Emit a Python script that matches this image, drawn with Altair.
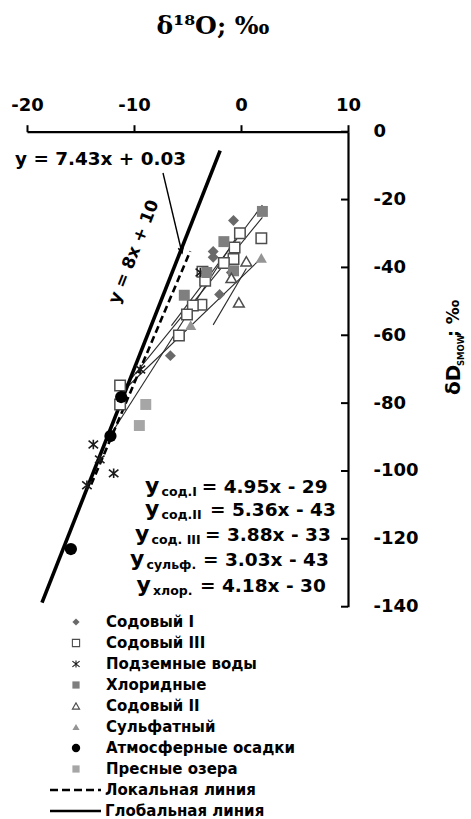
import altair as alt
import pandas as pd

# ---------------- data ----------------
sod1_x = [-0.7, -2.6, -2.6, -2.0, -6.6, -0.9]
sod1_y = [-26.2, -35.3, -37.0, -48.0, -66.0, -41.5]

sod3_x = [-0.1, 1.9, -0.6, -0.7, -1.6, -3.6, -3.35, -3.7, -4.5, -5.05, -5.8, -11.3, -11.3]
sod3_y = [-29.9, -31.4, -34.1, -37.5, -38.7, -41.3, -43.9, -51.0, -51.2, -53.9, -60.1, -74.8, -80.4]

ground_x = [-3.8, -9.4, -13.8, -11.9, -14.4, -13.2]
ground_y = [-41.5, -70.1, -92.2, -100.7, -104.2, -96.6]

chlor_x = [2.0, -1.6, -3.2, -5.3, -0.7]
chlor_y = [-23.5, -32.4, -41.5, -48.2, -41.0]

sod2_x = [0.5, -0.9, -0.2]
sod2_y = [-38.2, -43.1, -50.3]

sulf_x = [1.9, -4.7]
sulf_y = [-37.2, -57.0]

atm_x = [-11.2, -12.2, -15.9]
atm_y = [-78.2, -89.7, -123.0]

lake_x = [-8.9, -9.5]
lake_y = [-80.4, -86.6]

# trend lines: y = slope*x + icpt over [xmin, xmax]
trend_names = ["сод.I", "сод.II", "сод.III", "сульф.", "хлор."]
trend_slope = [4.95, 5.36, 3.88, 3.03, 4.18]
trend_icpt = [-29, -43, -33, -43, -30]
trend_xmin = [-12.2, -2.6, -11.3, -11.3, -6.5]
trend_xmax = [-0.5, 0.5, 2.0, 2.0, 2.0]

gmwl = dict(slope=8.0, icpt=10.0, xmin=-18.6, xmax=-1.95)
lmwl = dict(slope=7.43, icpt=0.03, xmin=-14.0, xmax=-4.75)

x_ticks = [-20, -10, 0, 10]
y_ticks = [0, -20, -40, -60, -80, -100, -120, -140]

eq_subs = ["сод.I", "сод.II", "сод. III", "сульф.", "хлор."]
eq_texts = ["= 4.95x - 29", "= 5.36x - 43", "= 3.88x - 33", "= 3.03x - 43", "= 4.18x - 30"]

legend_names = ["Содовый I", "Содовый III", "Подземные воды", "Хлоридные",
                "Содовый II", "Сульфатный", "Атмосферные осадки", "Пресные озера"]
legend_line_names = ["Локальная линия", "Глобальная линия"]

# ---------------- styles ----------------
FONT = "DejaVu Sans"
ASTER = "M-1,-0.8L1,0.8M-1,0.8L1,-0.8M0,-1L0,1"
styles = {
    "Содовый I": dict(shape="diamond", filled=True, fill="#696969", strokeWidth=0, size=120),
    "Содовый III": dict(shape="square", filled=True, fill="white", stroke="#4d4d4d", strokeWidth=1.5, size=110),
    "Подземные воды": dict(shape=ASTER, filled=False, stroke="#1a1a1a", strokeWidth=1.6, size=90),
    "Хлоридные": dict(shape="square", filled=True, fill="#7f7f7f", strokeWidth=0, size=120),
    "Содовый II": dict(shape="triangle-up", filled=True, fill="white", stroke="#4d4d4d", strokeWidth=1.5, size=115),
    "Сульфатный": dict(shape="triangle-up", filled=True, fill="#959595", strokeWidth=0, size=125),
    "Атмосферные осадки": dict(shape="circle", filled=True, fill="#000000", strokeWidth=0, size=150),
    "Пресные озера": dict(shape="square", filled=True, fill="#a6a6a6", strokeWidth=0, size=120),
}
groups = [
    ("Содовый I", sod1_x, sod1_y),
    ("Содовый III", sod3_x, sod3_y),
    ("Подземные воды", ground_x, ground_y),
    ("Хлоридные", chlor_x, chlor_y),
    ("Содовый II", sod2_x, sod2_y),
    ("Сульфатный", sulf_x, sulf_y),
    ("Атмосферные осадки", atm_x, atm_y),
    ("Пресные озера", lake_x, lake_y),
]

# plot-area origin inside the 471x819 page
OX, OY = 27, 131.7
W, H = 321, 475

xs = alt.Scale(domain=[-20, 10], nice=False, zero=False)
ys = alt.Scale(domain=[-140, 0], nice=False, zero=False)

xaxis = alt.Axis(orient="top", values=x_ticks, grid=False, title=None,
                 domainColor="black", domainWidth=2.2, tickColor="black", tickWidth=2,
                 tickSize=7, labelFont=FONT, labelFontWeight="bold", labelFontSize=18,
                 labelColor="black", labelPadding=10, labelFlush=False, labelOverlap=False,
                 labelExpr="toString(datum.value)")
yaxis = alt.Axis(orient="right", values=y_ticks, grid=False, title=None, ticks=False,
                 tickSize=0, domainColor="black", domainWidth=2.2, labelFont=FONT,
                 labelFontWeight="bold", labelFontSize=18, labelColor="black",
                 labelPadding=25, labelAlign="left", labelBaseline="middle",
                 labelFlush=False, labelOverlap=False,
                 labelExpr="toString(datum.value)")

X = alt.X("x:Q", scale=xs, axis=xaxis)
Y = alt.Y("y:Q", scale=ys, axis=yaxis)

layers = []

# trend lines
trend_rows = []
for n, s, b, a, z in zip(trend_names, trend_slope, trend_icpt, trend_xmin, trend_xmax):
    trend_rows.append(dict(name=n, slope=s, icpt=b, x=a))
    trend_rows.append(dict(name=n, slope=s, icpt=b, x=z))
layers.append(
    alt.Chart(pd.DataFrame(trend_rows))
    .transform_calculate(y="datum.slope * datum.x + datum.icpt")
    .mark_line(color="#2b2b2b", strokeWidth=1.1)
    .encode(x=X, y=Y, detail="name:N")
)

# global and local meteoric water lines
def mwl_df(d):
    return pd.DataFrame(dict(x=[d["xmin"], d["xmax"]], slope=[d["slope"]] * 2, icpt=[d["icpt"]] * 2))

layers.append(
    alt.Chart(mwl_df(lmwl)).transform_calculate(y="datum.slope * datum.x + datum.icpt")
    .mark_line(color="black", strokeWidth=2.6, strokeDash=[7, 4]).encode(x=X, y=Y)
)
layers.append(
    alt.Chart(mwl_df(gmwl)).transform_calculate(y="datum.slope * datum.x + datum.icpt")
    .mark_line(color="black", strokeWidth=3.6).encode(x=X, y=Y)
)

# data points
for name, gx, gy in groups:
    st = dict(styles[name])
    layers.append(
        alt.Chart(pd.DataFrame(dict(x=gx, y=gy))).mark_point(opacity=1, **st).encode(x=X, y=Y)
    )

# inward y-axis ticks
layers.append(
    alt.Chart(pd.DataFrame(dict(y=y_ticks, x=[10] * len(y_ticks))))
    .mark_rule(color="black", strokeWidth=2, x2Offset=-7)
    .encode(x=X, x2="x:Q", y=Y)
)

one = pd.DataFrame({"k": [0]})

def txt(text, x, y, size, align="left", baseline="middle", angle=None, font=FONT, weight="bold"):
    kw = dict(text=text, fontSize=size, align=align, baseline=baseline, font=font,
              fontWeight=weight, color="black")
    if angle is not None:
        kw["angle"] = angle
    return alt.Chart(one).mark_text(**kw).encode(x=alt.value(x - OX), y=alt.value(y - OY))

# axis titles
layers.append(txt("δ¹⁸O; ‰", 213, 26, 25, align="center", font="DejaVu Serif"))
layers.append(txt("δD", 454, 395, 20, align="left", angle=270))
layers.append(txt("SMOW", 461, 366, 8.5, align="left", angle=270))
layers.append(txt("; ‰", 454, 337, 17, align="left", angle=270))

# annotations
layers.append(txt("y = 7.43x + 0.03", 15, 159, 18.4))
layers.append(txt("y = 8x + 10", 134, 252, 17, align="center", angle=291.6))
layers.append(
    alt.Chart(one).mark_rule(color="black", strokeWidth=1.4)
    .encode(x=alt.value(163 - OX), y=alt.value(173 - OY), x2=alt.value(182 - OX), y2=alt.value(253 - OY))
)
layers.append(
    alt.Chart(one).mark_point(shape="M-0.6,-1.3L0,0L0.6,-1.3", filled=False, stroke="black",
                              strokeWidth=1.4, size=70, angle=346.6, opacity=1)
    .encode(x=alt.value(182 - OX), y=alt.value(253 - OY))
)

# regression equations
eq_y = [487, 510, 535, 560, 586]
eq_ystart = [145, 145, 135, 130, 136.5]
eq_eqstart = [201.7, 210, 205, 203, 200]
for sub, eq, yy, xy, xe in zip(eq_subs, eq_texts, eq_y, eq_ystart, eq_eqstart):
    layers.append(txt("y", xy, yy + 6, 22, baseline="alphabetic"))
    layers.append(txt(sub, xy + 16.5, yy + 5, 12.5))
    layers.append(txt(eq, xe, yy, 18.5))

# legend
leg_y0, leg_dy = 622, 21.0
for i, name in enumerate(legend_names):
    st = dict(styles[name])
    st["size"] = 52 if name != "Атмосферные осадки" else 70
    if "strokeWidth" in st and st["strokeWidth"]:
        st["strokeWidth"] = 1.1
    yy = leg_y0 + i * leg_dy
    layers.append(
        alt.Chart(one).mark_point(opacity=1, **st).encode(x=alt.value(76 - OX), y=alt.value(yy - OY))
    )
    layers.append(txt(name, 106, yy, 15))
for j, name in enumerate(legend_line_names):
    yy = leg_y0 + (len(legend_names) + j) * leg_dy
    kw = dict(color="black", strokeWidth=2.6)
    if j == 0:
        kw["strokeDash"] = [8, 4]
    layers.append(
        alt.Chart(one).mark_rule(**kw)
        .encode(x=alt.value(50 - OX), x2=alt.value(101 - OX), y=alt.value(yy - OY))
    )
    layers.append(txt(name, 105, yy, 15))

chart = (
    alt.layer(*layers)
    .properties(width=W, height=H, autosize=alt.AutoSizeParams(type="none"),
                padding={"left": OX, "top": OY, "right": 471 - OX - W, "bottom": 819 - OY - H},
                background="white")
    .configure_view(strokeWidth=0)
)

chart.save("out.html", embed_options={"renderer": "svg", "actions": False})
